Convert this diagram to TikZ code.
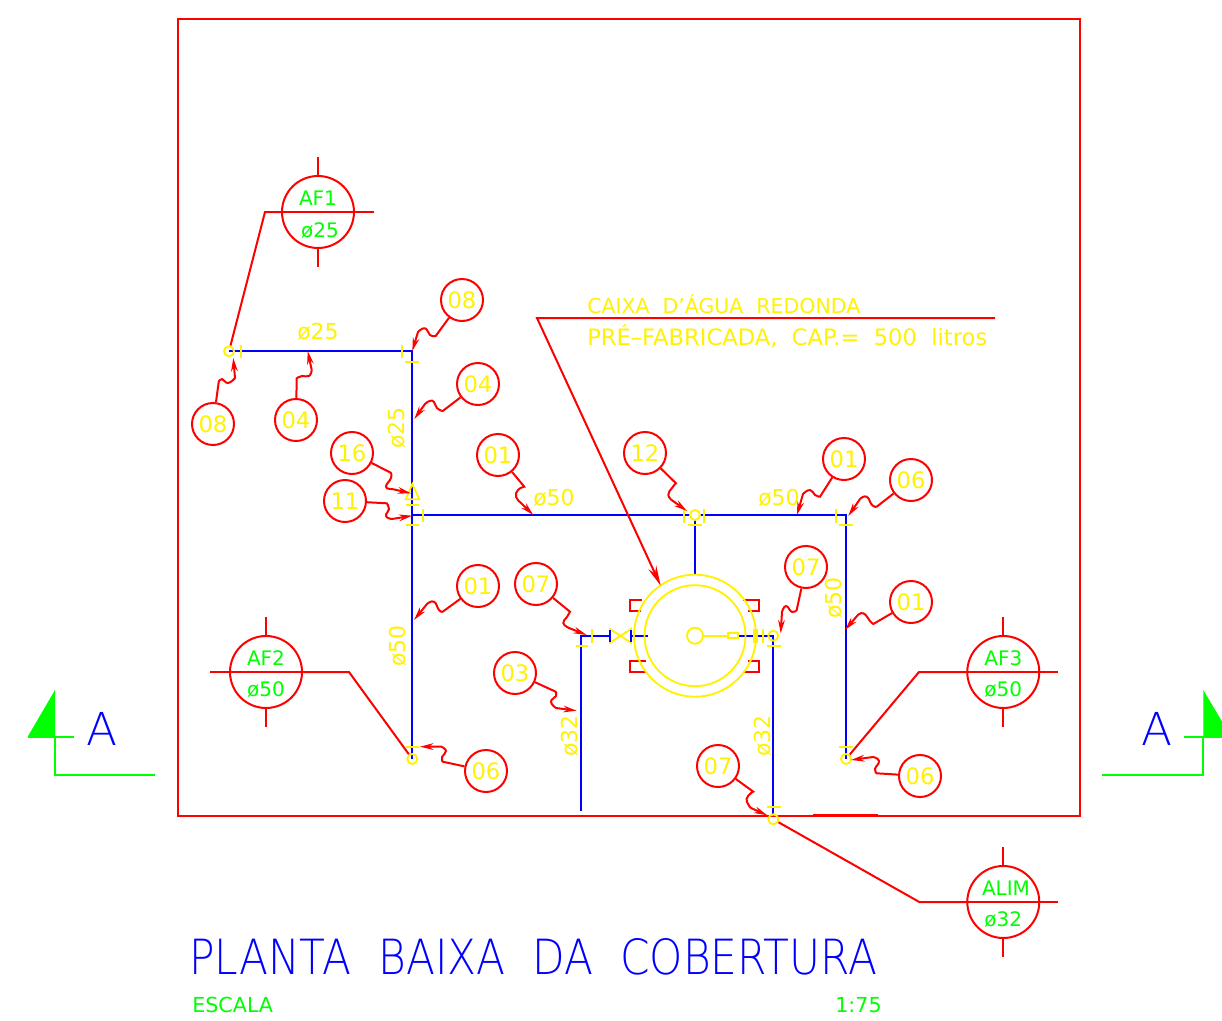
\documentclass[tikz,border=0pt]{standalone}
\usepackage{graphicx}
\usepackage{fontspec}
\setmainfont{DejaVu Sans}
\newfontfamily\thinfont{DejaVu Sans ExtraLight}
\usetikzlibrary{arrows.meta}
\tikzset{
  redline/.style={draw=red,line width=1.5pt},
  leader/.style={redline,-{Stealth[length=10pt,width=5pt]}},
  pipe/.style={draw=blue,line width=1.6pt},
  fitting/.style={draw=yellow,line width=1.4pt},
  greenline/.style={draw=green,line width=1.5pt},
  balloon/.style={circle,draw=red,line width=1.5pt,minimum size=31.5pt,inner sep=0pt,text=yellow,font=\fontsize{17}{17}\selectfont},
  tagcircle/.style={circle,draw=red,line width=1.5pt,minimum size=54pt,inner sep=0pt},
  tagtext/.style={text=green,inner sep=0pt,font=\fontsize{15}{16}\selectfont},
  dimtext/.style={text=yellow,inner sep=0pt,font=\fontsize{16.5}{17}\selectfont},
  dimv/.style={dimtext,rotate=90},
  notetext/.style={text=yellow,inner sep=0pt,anchor=west,font=\fontsize{16}{16}\selectfont},
  endcap/.style={circle,draw=yellow,line width=1.4pt,minimum size=7.5pt,inner sep=0pt},
  letter/.style={text=blue,inner sep=0pt,font=\thinfont\fontsize{34}{34}\selectfont},
  scaletext/.style={text=green,inner sep=0pt,font=\fontsize{15.5}{16}\selectfont}
}
\begin{document}
\begin{tikzpicture}[x=0.75pt,y=0.75pt,yscale=-1,xscale=1]
\useasboundingbox (0,0) rectangle (1222,1021);

% pipe points
\coordinate (p1) at (229,351.3);
\coordinate (p2) at (412.3,351.3);
\coordinate (p3) at (412.3,515);
\coordinate (p4) at (412.3,759);
\coordinate (p5) at (846,515);
\coordinate (p6) at (846,759);
\coordinate (p7) at (695,515);
\coordinate (p8) at (695,575);
\coordinate (p9) at (581.3,635.7);
\coordinate (p10) at (581.3,811);
\coordinate (p11) at (610,635.7);
\coordinate (p12) at (631,635.7);
\coordinate (p13) at (647.7,635.7);
\coordinate (p14) at (737.7,635.7);
\coordinate (p15) at (773.3,635.7);
\coordinate (p16) at (773.3,815);
% tank
\coordinate (tank) at (695,635.7);

% outline
\draw[redline] (178,19) rectangle (1080,815.5);
\draw[draw=red,line width=2.2pt] (813,815.5) -- (878,815.5);

% pipes
\draw[pipe] (p1) -- (p2) -- (p4);
\draw[pipe] (p3) -- (p5) -- (p6);
\draw[pipe] (p7) -- (p8);
\draw[pipe] (p10) -- (p9) -- (p11);
\draw[pipe] (p12) -- (p13);
\draw[pipe] (p14) -- (p15) -- (p16);

% tank and lugs
\draw[redline] (641.7,600) -- (630,600) -- (630,610.7) -- (641,610.7);
\draw[redline] (646,661) -- (630,661) -- (630,671.7) -- (646,671.7);
\draw[redline] (743.3,600) -- (759,600) -- (759,610.7) -- (748.3,610.7);
\draw[redline] (748.3,661) -- (759,661) -- (759,671.7) -- (743.3,671.7);
\draw[fitting] (tank) circle (61);
\draw[fitting] (tank) circle (50.5);
\node[endcap,minimum size=12pt] (float) at (tank) {};
\node[draw=yellow,line width=1.4pt,minimum width=7pt,minimum height=3.6pt,inner sep=0pt] (valvebox) at (733,635.7) {};
\draw[fitting] (float) -- (valvebox);

% fittings
\node[endcap] (c1) at (p1) {};
\node[endcap] (c2) at (p4) {};
\node[endcap] (c3) at (p6) {};
\node[endcap,fill=white] (c4) at (p7) {};
\node[endcap] (c5) at (p15) {};
\node[endcap] (c6) at (773.3,819.3) {};
\draw[fitting] (241,345) -- (241,358);
\draw[fitting] (402,345) -- (402,358);
\draw[fitting] (405.3,361.7) -- (419.3,361.7);
\draw[fitting] (412.3,484) -- (405.7,499.3) -- (419.3,499.3) -- cycle;
\draw[fitting] (405.7,505) -- (419.3,505);
\draw[fitting] (422.7,508.7) -- (422.7,522);
\draw[fitting] (405.7,525.3) -- (419.3,525.3);
\draw[fitting] (684,509) -- (684,522.7);
\draw[fitting] (704,509) -- (704,522.7);
\draw[fitting] (688,525) -- (702,525);
\draw[fitting] (836,509) -- (836,522.7);
\draw[fitting] (839.3,525) -- (852.7,525);
\draw[fitting] (405.7,747) -- (419.3,747);
\draw[fitting] (839.3,746.7) -- (852.7,746.7);
\draw[fitting] (766.7,806.7) -- (780.7,806.7);
\draw[fitting] (575.7,645.7) -- (588.3,645.7);
\draw[fitting] (591.7,629) -- (591.7,642.7);
\draw[fitting] (610,629) -- (631,642.7) -- (631,629) -- (610,642.7) -- cycle;
\draw[pipe] (610,630) -- (610,642);
\draw[pipe] (631,630) -- (631,642);
\draw[fitting] (754.3,629) -- (754.3,642.7);
\draw[fitting] (756.7,629) -- (756.7,642.7);
\draw[fitting] (763.3,629) -- (763.3,642.7);
\draw[fitting] (766.7,645.7) -- (780.7,645.7);

% balloons
\node[balloon] (b08a) at (462,300) {08};
\node[balloon] (b04a) at (478,384) {04};
\node[balloon] (b08b) at (213,424) {08};
\node[balloon] (b04b) at (296,420) {04};
\node[balloon] (b16) at (352,453) {16};
\node[balloon] (b11) at (345,501) {11};
\node[balloon] (b01a) at (498,455) {01};
\node[balloon] (b12) at (645,453) {12};
\node[balloon] (b01b) at (844,459) {01};
\node[balloon] (b06a) at (911,480) {06};
\node[balloon] (b07a) at (536,584) {07};
\node[balloon] (b07b) at (806,567) {07};
\node[balloon] (b01c) at (478,586) {01};
\node[balloon] (b01d) at (911,602) {01};
\node[balloon] (b03) at (515,673) {03};
\node[balloon] (b06b) at (486,771) {06};
\node[balloon] (b06c) at (920,776) {06};
\node[balloon] (b07c) at (718,766) {07};

% leaders
\draw[leader] (b08a) -- (435.7,336) -- plot[smooth,tension=.9] coordinates {(435.7,336) (430,335) (425,328.3) (418,332)} -- (412.3,351);
\draw[leader] (b04a) -- (442.7,411) -- plot[smooth,tension=.9] coordinates {(442.7,411) (437,408) (432.3,400.7) (425,404)} -- (414.3,419);
\draw[leader] (b08b) -- (218.7,382) -- plot[smooth,tension=.9] coordinates {(218.7,382) (222,379) (228,383) (235,378)} -- (233.3,358);
\draw[leader] (b04b) -- (296.7,378.3) -- plot[smooth,tension=.9] coordinates {(296.7,378.3) (302,376) (309,376) (311.7,370)} -- (307.7,351);
\draw[leader] (b16) -- (390.7,472.7) -- plot[smooth,tension=.9] coordinates {(390.7,472.7) (391,478) (386,486.7) (392,489)} -- (411,493.3);
\draw[leader] (b11) -- (386.7,503.3) -- plot[smooth,tension=.9] coordinates {(386.7,503.3) (389,509) (386,516) (392,519)} -- (412.3,515.7);
\draw[leader] (b01a) -- (524.3,486.7) -- plot[smooth,tension=.9] coordinates {(524.3,486.7) (518,490) (516,496.7) (520,502)} -- (533.3,515);
\draw[leader] (b12) -- (676,483.3) -- plot[smooth,tension=.9] coordinates {(676,483.3) (672,488) (668.3,495) (673,501)} -- (687,511);
\draw[leader] (b01b) -- (820,496.7) -- plot[smooth,tension=.9] coordinates {(820,496.7) (815,495) (810,490) (803,494)} -- (797,515);
\draw[leader] (b06a) -- (876.7,506.7) -- plot[smooth,tension=.9] coordinates {(876.7,506.7) (872,505) (866.7,496.7) (860,499)} -- (848.3,516);
\draw[leader] (b07a) -- (570,611.7) -- plot[smooth,tension=.9] coordinates {(570,611.7) (567,617) (563.3,623) (569,628)} -- (586.7,635);
\draw[leader] (b07b) -- (796.7,610) -- plot[smooth,tension=.9] coordinates {(796.7,610) (792,612) (786,606) (782,612)} -- (780.7,633.3);
\draw[leader] (b01c) -- (442.7,611.7) -- plot[smooth,tension=.9] coordinates {(442.7,611.7) (439,610) (434,601.7) (427,604)} -- (414,620);
\draw[leader] (b01d) -- (873.3,624) -- plot[smooth,tension=.9] coordinates {(873.3,624) (870,621) (863.3,613.3) (857,616)} -- (845,630);
\draw[leader] (b03) -- (555.7,691.7) -- plot[smooth,tension=.9] coordinates {(555.7,691.7) (556,696) (551,701.7) (556,708)} -- (576.7,710.7);
\draw[leader] (b06b) -- (442.7,761.7) -- plot[smooth,tension=.9] coordinates {(442.7,761.7) (442,757) (446,751) (441,746.5)} -- (420,746.7);
\draw[leader] (b06c) -- (876.7,773.3) -- plot[smooth,tension=.9] coordinates {(876.7,773.3) (875,769) (879,761) (873,757)} -- (851,760);
\draw[leader] (b07c) -- (753.3,791.7) -- plot[smooth,tension=.9] coordinates {(753.3,791.7) (748,796) (747,802) (751,808)} -- (767.3,815.3);

% level tags
\node[tagcircle] (af1) at (318,212) {};
\node[tagcircle] (af2) at (266,672) {};
\node[tagcircle] (af3) at (1003.3,672) {};
\node[tagcircle] (alim) at (1003.3,902) {};
\foreach \n in {af1,af2,af3,alim}{
  \draw[redline] (\n.north) -- ++(0,-18);
  \draw[redline] (\n.south) -- ++(0,18);
  \draw[redline] (\n.west) -- (\n.east);
}
\draw[redline] (af1.east) -- ++(19,0);
\draw[redline] (af3.east) -- ++(18,0);
\draw[redline] (alim.east) -- ++(18,0);
\node[tagtext] (af1a) at (318,198) {AF1};
\node[tagtext] (af1b) at (320,231) {ø25};
\node[tagtext] (af2a) at (266,658) {AF2};
\node[tagtext] (af2b) at (266,690) {ø50};
\node[tagtext] (af3a) at (1003.3,658) {AF3};
\node[tagtext] (af3b) at (1003.3,690) {ø50};
\node[tagtext] (alima) at (1006,888) {ALIM};
\node[tagtext] (alimb) at (1003.3,920) {ø32};
\draw[redline] (c1) -- (265,212) -- (af1.west);
\draw[redline] (c2) -- (349,672) -- (af2.east);
\draw[redline] (af2.west) -- ++(-19,0);
\draw[redline] (c3) -- (919,672) -- (af3.west);
\draw[redline] (c6) -- (919.3,902) -- (alim.west);

% tank callout
\coordinate (calla) at (995,318);
\coordinate (callb) at (537,318);
\coordinate (callc) at (660.7,585.7);
\draw[redline,-{Stealth[length=15pt,width=6.5pt]}] (calla) -- (callb) -- (callc);
\node[notetext] (capa) at (587,304) {\resizebox{204.75pt}{!}{CAIXA\ \ D'ÁGUA\ \ REDONDA}};
\node[notetext] (capb) at (587,336) {\resizebox{300pt}{!}{PRÉ–FABRICADA,\ \ CAP.=\ \ 500\ \ litros}};

% dimensions
\node[dimtext] (d1) at (318,332) {ø25};
\node[dimv] (d2) at (397,428) {ø25};
\node[dimtext] (d3) at (554,498) {ø50};
\node[dimtext] (d4) at (779,498) {ø50};
\node[dimv] (d5) at (398,646) {ø50};
\node[dimv] (d6) at (834,598) {ø50};
\node[dimv] (d7) at (570,736) {ø32};
\node[dimv] (d8) at (763,736) {ø32};

% section marks
\coordinate (sa) at (54.5,736.7);
\fill[green] (27.7,736.7) -- (55,690) -- (55,736.7) -- cycle;
\draw[greenline] (27.7,736.7) -- (74,736.7);
\draw[greenline] (sa) -- (54.5,775) -- (155,775);
\node[letter] (aleft) at (101.7,729) {A};
\coordinate (sb) at (1203.3,736.7);
\fill[green] (1203.3,690) -- (1231,736.7) -- (1203.3,736.7) -- cycle;
\draw[greenline] (1184,736.7) -- (1222,736.7);
\draw[greenline] (sb) -- (1203.3,775) -- (1102.3,775);
\node[letter] (aright) at (1156.7,729) {A};

% title
\node[text=blue,inner sep=0pt,anchor=west] (title) at (189,957) {\resizebox{516pt}{27pt}{\thinfont PLANTA\ \ BAIXA\ \ DA\ \ COBERTURA}};
\node[scaletext,anchor=west] (scalea) at (192,1005) {ESCALA};
\node[scaletext,anchor=east] (scaleb) at (882,1005) {1:75};
\end{tikzpicture}
\end{document}
